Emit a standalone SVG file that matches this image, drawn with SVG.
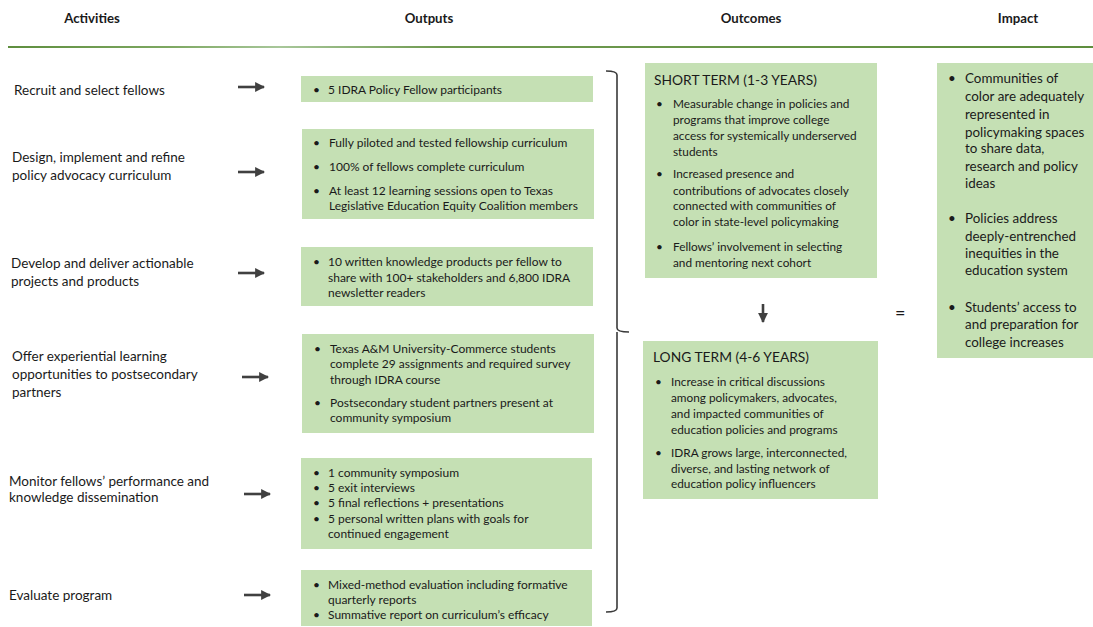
<svg xmlns="http://www.w3.org/2000/svg" width="1093" height="627" viewBox="0 0 1093 627">
<defs>
<linearGradient id="hl" x1="0" y1="0" x2="1" y2="0">
<stop offset="0" stop-color="#5e8e3e"/>
<stop offset="0.15" stop-color="#7ea862"/>
<stop offset="0.25" stop-color="#a8c79a"/>
<stop offset="0.4" stop-color="#6f9a50"/>
<stop offset="1" stop-color="#5e8e3e"/>
</linearGradient>
<marker id="ah" viewBox="0 0 10 10" refX="9" refY="5" markerWidth="3.8" markerHeight="3.8" orient="auto" markerUnits="strokeWidth">
<path d="M0,0 L10,5 L0,10 z" fill="#404040"/>
</marker>
<style>
text{font-family:Lato,"Open Sans","Liberation Sans",sans-serif;fill:#1a1a1a}
.h{font-size:13.2px;font-weight:bold;text-anchor:middle}
.a{font-size:13.5px}
.o{font-size:12px}
.s{font-size:11.8px}
.t{font-size:13.8px}
.i{font-size:13.4px}
.box{fill:#c5e0b4}
.arr{stroke:#404040;stroke-width:2.6;fill:none;marker-end:url(#ah)}
.br{stroke:#3a3a3a;stroke-width:1.6;fill:none}
</style>
</defs>
<rect width="1093" height="627" fill="#fff"/>
<g id="header">
<text class="h" x="92" y="23">Activities</text>
<text class="h" x="429" y="23">Outputs</text>
<text class="h" x="751" y="23">Outcomes</text>
<text class="h" x="1018" y="23">Impact</text>
<rect x="8" y="46" width="1085" height="2" fill="url(#hl)"/>
</g>
<g id="activities">
<g id="act1"><text class="a" x="14" y="95">Recruit and select fellows</text></g>
<g id="act2"><text class="a" x="12" y="162">Design, implement and refine</text><text class="a" x="12" y="180">policy advocacy curriculum</text></g>
<g id="act3"><text class="a" x="11" y="268">Develop and deliver actionable</text><text class="a" x="11" y="286">projects and products</text></g>
<g id="act4"><text class="a" x="12" y="361">Offer experiential learning</text><text class="a" x="12" y="379">opportunities to postsecondary</text><text class="a" x="12" y="397">partners</text></g>
<g id="act5"><text class="a" x="9" y="486">Monitor fellows’ performance and</text><text class="a" x="9" y="502">knowledge dissemination</text></g>
<g id="act6"><text class="a" x="9" y="600">Evaluate program</text></g>
</g>
<g id="connectors">
<line class="arr" x1="238" y1="87" x2="264" y2="87"/>
<line class="arr" x1="238" y1="172" x2="264" y2="172"/>
<line class="arr" x1="238" y1="273" x2="264" y2="273"/>
<line class="arr" x1="242" y1="377" x2="268" y2="377"/>
<line class="arr" x1="244" y1="494" x2="270" y2="494"/>
<line class="arr" x1="244" y1="595" x2="270" y2="595"/>
<path class="br" d="M606,71 Q617,71 617,75 L617,328 Q617,332 629,332 M617,332 Q617,336 617,340 L617,608 Q617,612 606,612"/>
<line class="arr" x1="763" y1="304" x2="763" y2="322"/>
</g>
<g id="out1"><rect class="box" x="301" y="76" width="292" height="26"/>
<text class="o" x="313" y="94">•</text><text class="o" x="328" y="94">5 IDRA Policy Fellow participants</text></g>
<g id="out2"><rect class="box" x="302" y="129" width="292" height="90"/>
<text class="o" x="313" y="147">•</text><text class="o" x="329" y="147">Fully piloted and tested fellowship curriculum</text>
<text class="o" x="313" y="171">•</text><text class="o" x="329" y="171">100% of fellows complete curriculum</text>
<text class="o" x="313" y="195">•</text><text class="o" x="329" y="195">At least 12 learning sessions open to Texas</text>
<text class="o" x="329" y="210">Legislative Education Equity Coalition members</text></g>
<g id="out3"><rect class="box" x="301" y="247" width="292" height="59"/>
<text class="o" x="313" y="266">•</text><text class="o" x="328" y="266">10 written knowledge products per fellow to</text>
<text class="o" x="328" y="282">share with 100+ stakeholders and 6,800 IDRA</text>
<text class="o" x="328" y="297">newsletter readers</text></g>
<g id="out4"><rect class="box" x="302" y="334" width="292" height="99"/>
<text class="o" x="314" y="353">•</text><text class="o" x="330" y="353">Texas A&amp;M University-Commerce students</text>
<text class="o" x="330" y="368">complete 29 assignments and required survey</text>
<text class="o" x="330" y="384">through IDRA course</text>
<text class="o" x="314" y="407">•</text><text class="o" x="330" y="407">Postsecondary student partners present at</text>
<text class="o" x="330" y="422">community symposium</text></g>
<g id="out5"><rect class="box" x="301" y="458" width="291" height="91"/>
<text class="o" x="313" y="477">•</text><text class="o" x="328" y="477">1 community symposium</text>
<text class="o" x="313" y="492">•</text><text class="o" x="328" y="492">5 exit interviews</text>
<text class="o" x="313" y="507">•</text><text class="o" x="328" y="507">5 final reflections + presentations</text>
<text class="o" x="313" y="523">•</text><text class="o" x="328" y="523">5 personal written plans with goals for</text>
<text class="o" x="328" y="538">continued engagement</text></g>
<g id="out6"><rect class="box" x="301" y="570" width="291" height="56"/>
<text class="o" x="313" y="589">•</text><text class="o" x="328" y="589">Mixed-method evaluation including formative</text>
<text class="o" x="328" y="604">quarterly reports</text>
<text class="o" x="313" y="619">•</text><text class="o" x="328" y="619">Summative report on curriculum’s efficacy</text></g>
<g id="short"><rect class="box" x="645" y="63" width="232" height="215"/>
<text class="t" x="654" y="85">SHORT TERM (1-3 YEARS)</text>
<text class="s" x="656" y="108">•</text><text class="s" x="673" y="108">Measurable change in policies and</text>
<text class="s" x="673" y="124">programs that improve college</text>
<text class="s" x="673" y="140">access for systemically underserved</text>
<text class="s" x="673" y="156">students</text>
<text class="s" x="656" y="178">•</text><text class="s" x="673" y="178">Increased presence and</text>
<text class="s" x="673" y="195">contributions of advocates closely</text>
<text class="s" x="673" y="210">connected with communities of</text>
<text class="s" x="673" y="226">color in state-level policymaking</text>
<text class="s" x="656" y="251">•</text><text class="s" x="673" y="251">Fellows’ involvement in selecting</text>
<text class="s" x="673" y="267">and mentoring next cohort</text></g>
<g id="long"><rect class="box" x="643" y="341" width="235" height="158"/>
<text class="t" x="653" y="362">LONG TERM (4-6 YEARS)</text>
<text class="s" x="655" y="386">•</text><text class="s" x="671" y="386">Increase in critical discussions</text>
<text class="s" x="671" y="402">among policymakers, advocates,</text>
<text class="s" x="671" y="418">and impacted communities of</text>
<text class="s" x="671" y="434">education policies and programs</text>
<text class="s" x="655" y="457">•</text><text class="s" x="671" y="457">IDRA grows large, interconnected,</text>
<text class="s" x="671" y="473">diverse, and lasting network of</text>
<text class="s" x="671" y="488">education policy influencers</text></g>
<g id="equals"><text x="895" y="319" style="font-size:18px">=</text></g>
<g id="impact"><rect class="box" x="937" y="63" width="156" height="295"/>
<text class="i" x="948" y="83">•</text><text class="i" x="965" y="83">Communities of</text>
<text class="i" x="965" y="101">color are adequately</text>
<text class="i" x="965" y="119">represented in</text>
<text class="i" x="965" y="137">policymaking spaces</text>
<text class="i" x="965" y="153">to share data,</text>
<text class="i" x="965" y="171">research and policy</text>
<text class="i" x="965" y="188">ideas</text>
<text class="i" x="948" y="223">•</text><text class="i" x="965" y="223">Policies address</text>
<text class="i" x="965" y="241">deeply-entrenched</text>
<text class="i" x="965" y="258">inequities in the</text>
<text class="i" x="965" y="275">education system</text>
<text class="i" x="948" y="312">•</text><text class="i" x="965" y="312">Students’ access to</text>
<text class="i" x="965" y="329">and preparation for</text>
<text class="i" x="965" y="347">college increases</text></g>
</svg>
